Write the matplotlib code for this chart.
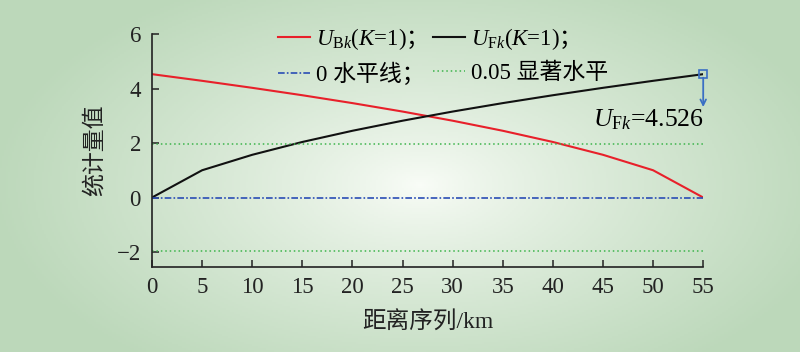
#!/usr/bin/env python3

import numpy as np
import matplotlib
matplotlib.use('Agg')
import matplotlib.pyplot as plt
from matplotlib.lines import Line2D

# distance sequence (km) and Mann-Kendall statistics
dist_km = [0, 5, 10, 15, 20, 25, 30, 35, 40, 45, 50, 55]
uf_k = [0.0, 1.0, 1.567, 2.038, 2.449, 2.818, 3.154, 3.464, 3.753, 4.025, 4.282, 4.526]
ub_k = [4.526, 4.282, 4.025, 3.753, 3.464, 3.154, 2.818, 2.449, 2.038, 1.567, 1.0, 0.0]
zero_level = 0
sig_level = 1.96  # 0.05

x_ticks = [0, 5, 10, 15, 20, 25, 30, 35, 40, 45, 50, 55]
y_ticks = [-2, 0, 2, 4, 6]

plt.rcParams['font.family'] = ['Liberation Serif', 'Noto Sans CJK SC']
plt.rcParams['mathtext.fontset'] = 'custom'
plt.rcParams['mathtext.rm'] = 'Liberation Serif'
plt.rcParams['mathtext.it'] = 'Liberation Serif:italic'
plt.rcParams['mathtext.sf'] = 'Noto Sans CJK SC'
plt.rcParams['axes.unicode_minus'] = True

DASHDOT = (0, (4, 1.3, 1, 1.3))
DOTTED = (0, (1, 1.9))

fig = plt.figure(figsize=(8, 3.52), dpi=100)

# radial green gradient background
bg = fig.add_axes([0, 0, 1, 1], zorder=-10)
gx, gy = np.meshgrid(np.linspace(0, 800, 400), np.linspace(0, 352, 176))
r = np.sqrt(((gx - 420) / 430.0) ** 2 + ((gy - 185) / 230.0) ** 2)
r = np.clip(r, 0, 1) ** 0.8
centre = np.array([250, 253, 248]) / 255.0
edge = np.array([188, 216, 186]) / 255.0
img = centre[None, None, :] * (1 - r[..., None]) + edge[None, None, :] * r[..., None]
bg.imshow(img, aspect='auto', extent=[0, 1, 0, 1])
bg.axis('off')

ax = fig.add_axes([0.19, 0.2415, 0.689, 0.6619])
ax.set_facecolor('none')

ax.plot(dist_km, ub_k, color='#e8202a', lw=1.5)
ax.plot(dist_km, uf_k, color='#111111', lw=1.5)
ax.axhline(zero_level, color='#2a4db5', lw=1.2, ls=DASHDOT)
ax.axhline(sig_level, color='#3cb44b', lw=1.1, ls=DOTTED)
ax.axhline(-sig_level, color='#3cb44b', lw=1.1, ls=DOTTED)

# end value marker + arrow
ax.plot(dist_km[-1], uf_k[-1], marker='s', ms=5.5, mfc='none', mec='#3a6fc4', mew=1.2,
        clip_on=False)
ax.annotate('', xy=(dist_km[-1], 3.32), xytext=(dist_km[-1], uf_k[-1] - 0.13),
            arrowprops=dict(arrowstyle='->', color='#3a6fc4', lw=1.3, shrinkA=0, shrinkB=0))
ax.text(dist_km[-1] + 0.1, 2.85, r'$U_{\mathrm{F}k}$=%.3f' % uf_k[-1], ha='right', va='center',
        fontsize=18.5)

ax.set_xlim(0, 55)
ax.set_ylim(-2.55, 6)
ax.set_xticks(x_ticks)
ax.set_yticks(y_ticks)
ax.spines['top'].set_visible(False)
ax.spines['right'].set_visible(False)
for s in ['left', 'bottom']:
    ax.spines[s].set_linewidth(1.2)
    ax.spines[s].set_color('#222222')
ax.tick_params(direction='in', length=5, width=1.1, colors='#222222', labelsize=16.5)
ax.tick_params(axis='y', pad=8)
ax.tick_params(axis='x', pad=7)

ax.set_xlabel('距离序列/km', fontsize=17, labelpad=10, color='#222222')
ax.set_ylabel('统计量值', fontsize=16.5, labelpad=8, color='#222222')

handles = [
    Line2D([], [], color='#e8202a', lw=1.5),
    Line2D([], [], color='#2a4db5', lw=1.2, ls=DASHDOT),
    Line2D([], [], color='#111111', lw=1.5),
    Line2D([], [], color='#3cb44b', lw=1.1, ls=DOTTED),
]
labels = [
    r'$U_{\mathrm{B}k}$($K$=1)$\mathsf{；}$',
    '0 水平线；',
    r'$U_{\mathrm{F}k}$($K$=1)$\mathsf{；}$',
    '0.05 显著水平',
]
ax.legend(handles, labels, ncol=2, loc='upper left', bbox_to_anchor=(0.2, 1.105),
          frameon=False, fontsize=16.5, handlelength=1.4, handletextpad=0.25,
          columnspacing=0.35, labelspacing=0.5, borderpad=0.2)

plt.savefig('out.png', dpi=100)
